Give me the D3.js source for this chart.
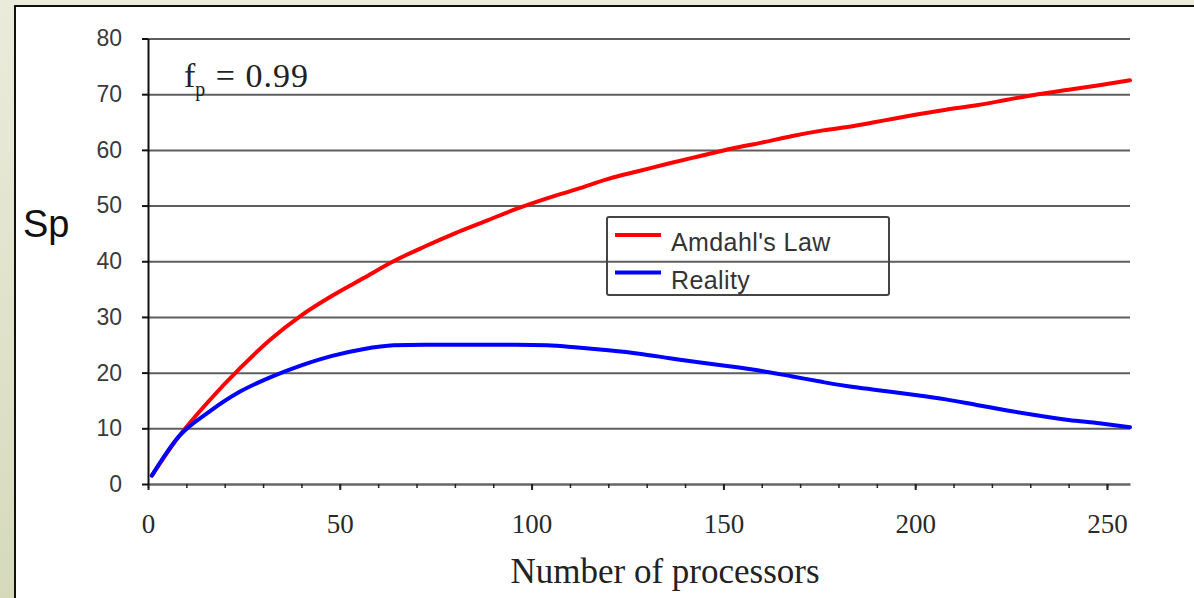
<!DOCTYPE html>
<html>
<head>
<meta charset="utf-8">
<script src="https://cdn.jsdelivr.net/npm/d3@7"></script>
<style>
  html, body { margin: 0; padding: 0; background: #ffffff; }
  svg { display: block; }
</style>
</head>
<body>
<svg id="chart" width="1194" height="598"></svg>
<script>
// ---- data ----
const processors = [1, 8, 16, 24, 32, 40, 48, 56, 64, 72, 80, 88, 96, 104, 112, 120, 128, 136, 144, 152, 160, 168, 176, 184, 192, 200, 208, 216, 224, 232, 240, 248, 256];
const amdahlValues = [1.5, 8.5, 15, 20.8, 26, 30.3, 33.8, 36.9, 40, 42.6, 45, 47.2, 49.4, 51.3, 53, 54.8, 56.2, 57.6, 58.9, 60.2, 61.3, 62.5, 63.5, 64.3, 65.3, 66.3, 67.2, 68, 69, 70, 70.8, 71.6, 72.5];
const realityValues = [1.5, 8.5, 13, 16.6, 19.2, 21.3, 23, 24.2, 24.9, 25, 25, 25, 25, 24.9, 24.5, 24, 23.4, 22.6, 21.8, 21.1, 20.3, 19.3, 18.3, 17.4, 16.7, 16, 15.2, 14.2, 13.2, 12.3, 11.5, 10.9, 10.2];
const seriesNames = ["Amdahl's Law", "Reality"];
const seriesColors = ["#ff0000", "#0000ff"];
const yTicks = [0, 10, 20, 30, 40, 50, 60, 70, 80];
const xMajorTicks = [0, 50, 100, 150, 200, 250];
const xMinorTicks = d3.range(0, 251, 10);
const xTitle = "Number of processors";
const yTitle = "Sp";

const svg = d3.select("#chart");
const W = 1194, H = 598;

// page background / frame
const defs = svg.append("defs");
const grad = defs.append("linearGradient").attr("id", "bg").attr("x1", 0).attr("y1", 0).attr("x2", 0).attr("y2", 1);
grad.append("stop").attr("offset", "0%").attr("stop-color", "#ebebdc");
grad.append("stop").attr("offset", "100%").attr("stop-color", "#d6dabb");
svg.append("rect").attr("x", 0).attr("y", 0).attr("width", W).attr("height", H).attr("fill", "url(#bg)");
svg.append("rect").attr("x", 15).attr("y", 6).attr("width", W).attr("height", H)
  .attr("fill", "#ffffff").attr("stroke", "#111").attr("stroke-width", 2);

// plot area
const pLeft = 148, pRight = 1130, pTop = 38.5, pBottom = 484;
const x = d3.scaleLinear().domain([0, 256]).range([pLeft, pRight]);
const y = d3.scaleLinear().domain([0, 80]).range([pBottom, pTop]);

// gridlines
svg.append("g")
  .attr("transform", `translate(${pLeft},0)`)
  .call(d3.axisLeft(y).tickValues(yTicks.filter(v => v > 0)).tickSize(-(pRight - pLeft)).tickFormat(""))
  .call(g => g.select(".domain").remove())
  .call(g => g.selectAll("line").attr("stroke", "#5e5e5e").attr("stroke-width", 2));

// x axis: minor ticks
svg.append("g")
  .attr("transform", `translate(0,${pBottom})`)
  .call(d3.axisBottom(x).tickValues(xMinorTicks).tickSize(4).tickFormat("").tickSizeOuter(0))
  .call(g => g.select(".domain").attr("stroke", "#666").attr("stroke-width", 2.5))
  .call(g => g.selectAll(".tick line").attr("stroke", "#222").attr("stroke-width", 1.5));

// x axis: major ticks + labels
svg.append("g")
  .attr("transform", `translate(0,${pBottom})`)
  .call(d3.axisBottom(x).tickValues(xMajorTicks).tickSize(6).tickPadding(24).tickSizeOuter(0))
  .call(g => g.select(".domain").remove())
  .call(g => g.selectAll(".tick line").attr("stroke", "#222").attr("stroke-width", 2))
  .call(g => g.selectAll(".tick text")
    .attr("font-family", "'Liberation Serif', 'Times New Roman', serif")
    .attr("font-size", 27).attr("fill", "#2a2a2a"));

// y axis
svg.append("g")
  .attr("transform", `translate(${pLeft},0)`)
  .call(d3.axisLeft(y).tickValues(yTicks).tickSize(6).tickPadding(20).tickSizeOuter(0))
  .call(g => g.select(".domain").attr("stroke", "#111").attr("stroke-width", 2))
  .call(g => g.selectAll(".tick line").attr("stroke", "#111").attr("stroke-width", 2))
  .call(g => g.selectAll(".tick text")
    .attr("font-family", "'Liberation Sans', Arial, sans-serif")
    .attr("font-size", 23).attr("fill", "#3a3a3a"));

// series lines
const series = [amdahlValues, realityValues];
const line = d3.line().x((d, i) => x(processors[i])).y(d => y(d)).curve(d3.curveMonotoneX);
series.forEach((vals, k) => {
  svg.append("path").datum(vals)
    .attr("fill", "none")
    .attr("stroke", seriesColors[k])
    .attr("stroke-width", 4)
    .attr("stroke-linejoin", "round")
    .attr("stroke-linecap", "round")
    .attr("d", line);
});

// titles
svg.append("text")
  .attr("x", (pLeft + pRight) / 2 + 26).attr("y", 583)
  .attr("text-anchor", "middle")
  .attr("font-family", "'Liberation Serif', 'Times New Roman', serif")
  .attr("font-size", 35).attr("fill", "#222")
  .text(xTitle);

svg.append("text")
  .attr("x", 23).attr("y", 237)
  .attr("font-family", "'Liberation Sans', Arial, sans-serif")
  .attr("font-size", 38).attr("fill", "#111")
  .text(yTitle);

// annotation f_p = 0.99
const ann = svg.append("text")
  .attr("x", 184).attr("y", 87)
  .attr("font-family", "'Liberation Serif', 'Times New Roman', serif")
  .attr("font-size", 34).attr("fill", "#222")
  .attr("letter-spacing", 1);
ann.append("tspan").text("f");
ann.append("tspan").attr("font-size", 20).attr("dy", 9).attr("dx", -1).text("p");
ann.append("tspan").attr("dy", -9).text(" = 0.99");

// legend
const lg = svg.append("g");
lg.append("rect").attr("x", 607).attr("y", 217).attr("width", 282).attr("height", 78)
  .attr("fill", "none").attr("stroke", "#444").attr("stroke-width", 2).attr("rx", 2);
seriesNames.forEach((name, k) => {
  const yy = 235 + k * 37.5;
  lg.append("line").attr("x1", 615).attr("x2", 661).attr("y1", yy).attr("y2", yy)
    .attr("stroke", seriesColors[k]).attr("stroke-width", 4);
  lg.append("text").attr("x", 671).attr("y", yy + 16)
    .attr("font-family", "'Liberation Sans', Arial, sans-serif")
    .attr("font-size", 25).attr("letter-spacing", 0.4).attr("fill", "#333")
    .text(name);
});
</script>
</body>
</html>
